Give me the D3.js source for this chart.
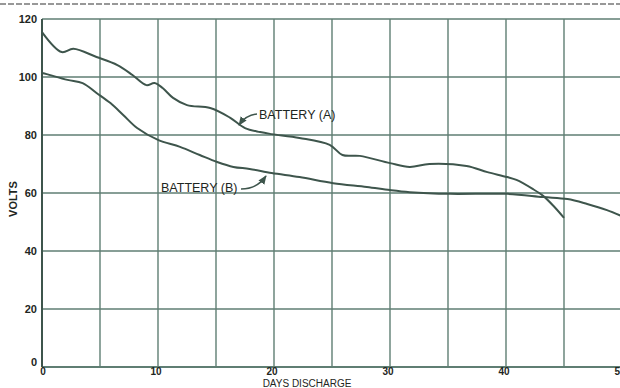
<!DOCTYPE html>
<html><head><meta charset="utf-8">
<script src="https://cdn.jsdelivr.net/npm/d3@7"></script>
<style>html,body{margin:0;padding:0;background:#fff;}svg{display:block;}</style>
</head><body>
<script>
const xTicks = [0, 10, 20, 30, 40, 50];
const xGrid = [5, 10, 15, 20, 25, 30, 35, 40, 45, 50];
const yTicks = [0, 20, 40, 60, 80, 100, 120];

const daysA = [0, 1.7, 2.7, 4.7, 6.5, 7.8, 9.0, 9.7, 10.4, 11.3, 12.5, 14.5, 16.2, 17.5, 18.8, 19.8, 22.2, 24.8, 25.9, 27.4, 30, 31.7, 33.4, 36.6, 38.4, 40.1, 40.9, 42.3, 43.2, 44.1, 45];
const voltsA = [115.5, 108.6, 109.7, 106.9, 104.1, 100.7, 97.2, 97.9, 96.2, 92.8, 90.3, 89.3, 86, 82.4, 81, 80.3, 79, 76.6, 73.1, 72.8, 70.3, 69.0, 70, 69.3, 67.2, 65.5, 64.5, 61.4, 59, 55.5, 51.4];

const daysB = [0, 0.4, 2.2, 3.5, 4.7, 5.9, 7, 8.2, 10, 11.9, 13.6, 15.1, 16.5, 17.9, 19.8, 22.2, 25.1, 28, 30, 31.7, 35.2, 40.1, 43.2, 45.3, 47, 48.7, 50];
const voltsB = [101.4, 101, 99, 97.9, 94.5, 91, 86.9, 82.4, 78.3, 75.9, 73.1, 70.7, 69, 68.3, 66.9, 65.5, 63.4, 62.1, 61, 60.3, 59.7, 59.7, 58.6, 57.9, 56.2, 54.1, 52];

const W = 620, H = 388;
const gridColor = "#5f7e73", curveColor = "#3e554c", textColor = "#1e2622";
const svg = d3.select("body").append("svg").attr("width", W).attr("height", H);

const x = d3.scaleLinear().domain([0, 50]).range([42, 622]);
const y = d3.scaleLinear().domain([0, 120]).range([367, 19]);

// scan border dashed line at top
svg.append("line").attr("x1", 0).attr("x2", W).attr("y1", 4).attr("y2", 4)
  .attr("stroke", "#777").attr("stroke-width", 1.5).attr("stroke-dasharray", "6,2");

// vertical grid
svg.append("g").selectAll("line").data(xGrid).join("line")
  .attr("x1", d => x(d)).attr("x2", d => x(d))
  .attr("y1", y(120)).attr("y2", y(0))
  .attr("stroke", gridColor).attr("stroke-width", 1.4);

// horizontal grid
svg.append("g").selectAll("line").data(yTicks).join("line")
  .attr("x1", x(0)).attr("x2", W)
  .attr("y1", d => y(d)).attr("y2", d => y(d))
  .attr("stroke", gridColor).attr("stroke-width", d => d === 0 ? 2 : 1.4);

// left axis
svg.append("line").attr("x1", x(0)).attr("x2", x(0)).attr("y1", y(120)).attr("y2", y(0))
  .attr("stroke", curveColor).attr("stroke-width", 2);

const font = "'Liberation Sans', Arial, sans-serif";

// y tick labels
svg.append("g").selectAll("text").data(yTicks).join("text")
  .attr("x", 37).attr("y", d => y(d) + (d === 0 ? -1 : 4))
  .attr("text-anchor", "end").attr("font-family", font).attr("font-size", 11)
  .attr("font-weight", "bold").attr("fill", textColor)
  .text(d => d);

// x tick labels
svg.append("g").selectAll("text").data(xTicks).join("text")
  .attr("x", d => x(d) + (d === 0 ? 1 : -2)).attr("y", 375)
  .attr("text-anchor", "middle").attr("font-family", font).attr("font-size", 10)
  .attr("font-weight", "bold").attr("fill", textColor)
  .text(d => d);

// axis titles
svg.append("text").attr("x", 307).attr("y", 387).attr("text-anchor", "middle")
  .attr("font-family", font).attr("font-size", 10).attr("fill", textColor)
  .text("DAYS DISCHARGE");
svg.append("text").attr("transform", "translate(17,199) rotate(-90)")
  .attr("text-anchor", "middle").attr("font-family", font).attr("font-size", 11)
  .attr("font-weight", "bold").attr("fill", textColor).text("VOLTS");

// curves
const line = d3.line().x(d => x(d[0])).y(d => y(d[1])).curve(d3.curveCatmullRom.alpha(0.5));
svg.append("path").datum(daysA.map((d, i) => [d, voltsA[i]]))
  .attr("d", line).attr("fill", "none").attr("stroke", curveColor).attr("stroke-width", 2);
svg.append("path").datum(daysB.map((d, i) => [d, voltsB[i]]))
  .attr("d", line).attr("fill", "none").attr("stroke", curveColor).attr("stroke-width", 2);

// arrow marker
svg.append("defs").append("marker").attr("id", "arr")
  .attr("viewBox", "0 0 10 10").attr("refX", 9).attr("refY", 5)
  .attr("markerWidth", 6).attr("markerHeight", 6).attr("orient", "auto")
  .append("path").attr("d", "M0,1 L10,5 L0,9 Z").attr("fill", curveColor);

// labels
svg.append("text").attr("x", 259).attr("y", 119).attr("font-family", font)
  .attr("font-size", 12.5).attr("fill", textColor).text("BATTERY (A)");
svg.append("path").attr("d", "M257,114 Q246,115 239,125")
  .attr("fill", "none").attr("stroke", curveColor).attr("stroke-width", 1.5).attr("marker-end", "url(#arr)");

svg.append("text").attr("x", 161).attr("y", 192).attr("font-family", font)
  .attr("font-size", 12.5).attr("fill", textColor).text("BATTERY (B)");
svg.append("path").attr("d", "M241,189 Q257,189 266,176")
  .attr("fill", "none").attr("stroke", curveColor).attr("stroke-width", 1.5).attr("marker-end", "url(#arr)");
</script>
</body></html>
